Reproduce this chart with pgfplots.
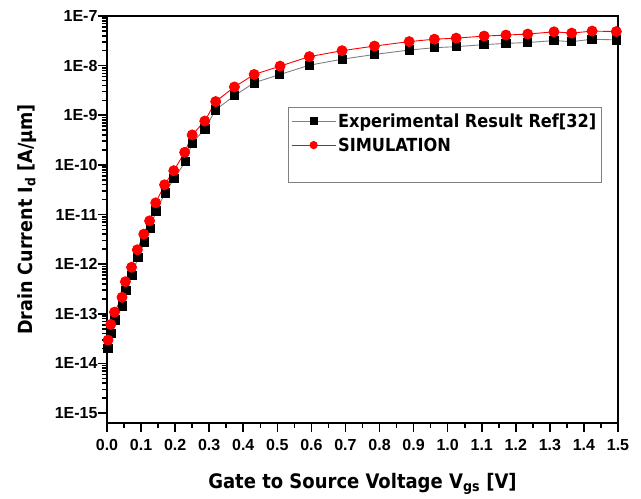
\documentclass[border=0pt]{standalone}
\usepackage{pgfplots}
\pgfplotsset{compat=1.18}
\usepackage{fontspec}
\setmainfont{Liberation Sans}
\newfontfamily\condfont{DejaVu Sans Condensed}
\begin{document}
\begin{tikzpicture}
\begin{axis}[
  name=ax,
  scale only axis,
  width=511pt, height=407pt,
  ymode=log,
  xmin=0, xmax=1.5,
  ymin=6.3e-16, ymax=1e-7,
  xtick={0,0.1,0.2,0.3,0.4,0.5,0.6,0.7,0.8,0.9,1.0,1.1,1.2,1.3,1.4,1.5},
  xticklabels={0.0,0.1,0.2,0.3,0.4,0.5,0.6,0.7,0.8,0.9,1.0,1.1,1.2,1.3,1.4,1.5},
  minor x tick num=1,
  ytick={1e-15,1e-14,1e-13,1e-12,1e-11,1e-10,1e-9,1e-8,1e-7},
  yticklabels={1E-15,1E-14,1E-13,1E-12,1E-11,1E-10,1E-9,1E-8,1E-7},
  /pgf/number format/assume math mode=true,
  tick label style={font=\fontsize{16}{16}\selectfont\bfseries},
  xticklabel style={yshift=-4pt},
  yticklabel style={xshift=3pt},
  xtick pos=bottom, ytick pos=left,
  tick align=outside,
  major tick length=9pt, minor tick length=5pt,
  every tick/.style={black, line width=1.6pt},
  axis line style={line width=2.6pt},
  xlabel={Gate to Source Voltage V\textsubscript{gs} [V]},
  ylabel={Drain Current I\textsubscript{d} [A/μm]},
  every axis x label/.style={at={(axis description cs:0.5,-0.16)}, anchor=base, font=\condfont\bfseries\fontsize{20}{20}\selectfont},
  every axis y label/.style={at={(axis description cs:-0.157,0.5)}, rotate=90, anchor=center, font=\condfont\bfseries\fontsize{19.5}{20}\selectfont},
  legend style={at={(axis description cs:0.354,0.776)}, anchor=north west,
    draw=gray, line width=0.6pt, font=\condfont\bfseries\fontsize{18}{18}\selectfont,
    row sep=5pt, inner xsep=3pt, inner ysep=4pt},
  legend cell align=left,
  legend image code/.code={\draw[mark repeat=2,mark phase=2, mark size=3.6pt] plot coordinates {(0pt,0pt) (22pt,0pt) (44pt,0pt)};},
]
\addplot[gray, line width=0.9pt, mark=square*, mark size=4.2pt, mark options={fill=black, draw=black, solid}] coordinates {
(0.003,2.0e-14) (0.013,4.07e-14) (0.023,7.46e-14) (0.045,1.45e-13) (0.056,2.97e-13)
(0.073,5.91e-13) (0.091,1.35e-12) (0.110,2.81e-12) (0.127,5.31e-12) (0.144,1.18e-11)
(0.171,2.74e-11) (0.197,5.33e-11) (0.230,1.16e-10) (0.250,2.74e-10) (0.287,5.31e-10)
(0.319,1.29e-9) (0.374,2.48e-9) (0.432,4.52e-9) (0.506,6.58e-9) (0.594,1.02e-8)
(0.691,1.35e-8) (0.785,1.68e-8) (0.887,2.06e-8) (0.961,2.30e-8) (1.025,2.41e-8)
(1.107,2.65e-8) (1.171,2.81e-8) (1.235,2.92e-8) (1.312,3.20e-8) (1.364,3.04e-8)
(1.424,3.41e-8) (1.495,3.30e-8)
};
\addlegendentry{Experimental Result Ref[32]}
\addplot[red, line width=0.9pt, mark=*, mark size=5pt, mark options={fill=red, draw=red, solid}] coordinates {
(0.003,2.95e-14) (0.011,6.1e-14) (0.022,1.08e-13) (0.044,2.15e-13) (0.054,4.43e-13)
(0.072,8.65e-13) (0.089,1.95e-12) (0.108,4.02e-12) (0.125,7.46e-12) (0.143,1.72e-11)
(0.169,3.98e-11) (0.196,7.64e-11) (0.228,1.79e-10) (0.250,4.02e-10) (0.287,7.64e-10)
(0.319,1.89e-9) (0.374,3.72e-9) (0.432,6.64e-9) (0.508,9.77e-9) (0.594,1.52e-8)
(0.690,2.0e-8) (0.785,2.48e-8) (0.887,3.05e-8) (0.961,3.41e-8) (1.025,3.58e-8)
(1.107,3.94e-8) (1.171,4.13e-8) (1.235,4.33e-8) (1.312,4.80e-8) (1.364,4.52e-8)
(1.424,4.97e-8) (1.495,4.86e-8)
};
\addlegendentry{SIMULATION}
\addlegendimage{empty legend}
\addlegendentry{\phantom{X}}
\end{axis}
\pgfresetboundingbox
\path ([shift={(-107pt,-75pt)}]ax.south west) rectangle ([shift={(23pt,16pt)}]ax.north east);
\end{tikzpicture}
\end{document}
